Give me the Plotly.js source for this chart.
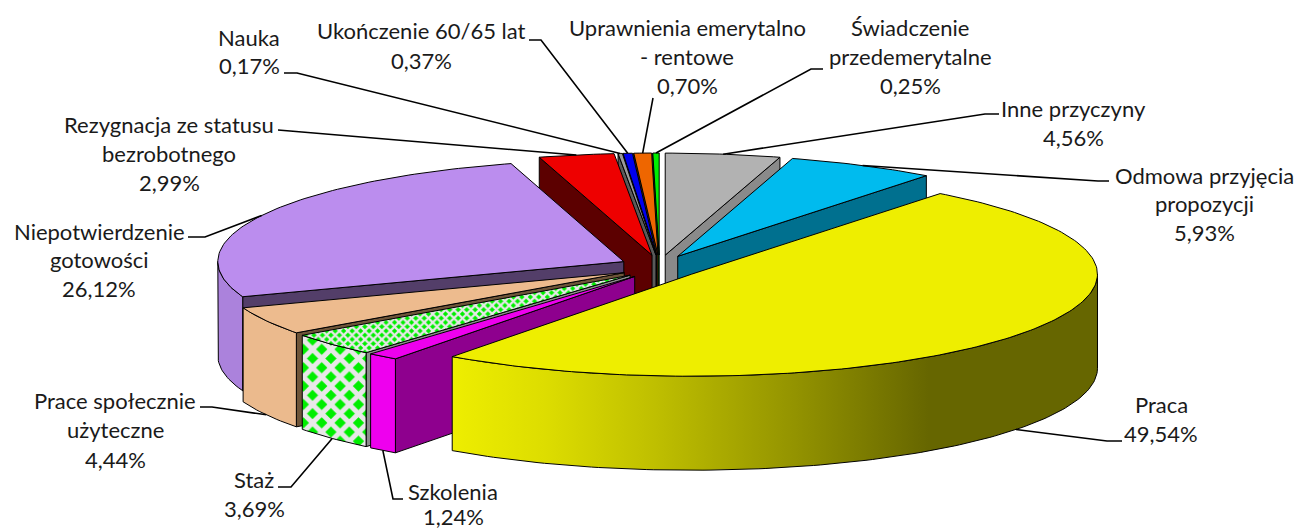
<!DOCTYPE html>
<html><head><meta charset="utf-8">
<script src="https://cdn.plot.ly/plotly-3.0.1.min.js"></script>
<style>html,body{margin:0;padding:0;background:#fff;overflow:hidden}#c{width:1296px;height:529px}</style>
</head><body><div id="c"></div>
<script>
// --- chart data (clockwise from 12 o'clock) ---
const categories = ["Inne przyczyny","Odmowa przyjęcia propozycji","Praca","Szkolenia","Staż","Prace społecznie użyteczne","Niepotwierdzenie gotowości","Rezygnacja ze statusu bezrobotnego","Nauka","Ukończenie 60/65 lat","Uprawnienia emerytalno - rentowe","Świadczenie przedemerytalne"];
const shares = [4.56,5.93,49.54,1.24,3.69,4.44,26.12,2.99,0.17,0.37,0.70,0.25];
const topColors = ["#B2B2B2","#00BBEE","#EEEE00","#EE00EE","#00EE00","#EDBB8E","#BB8DEE","#EE0000","#9A9A9A","#0000EE","#EE6600","#00EE00"];
const sideColors = ["#8A8A8A","#00708F","#666600","#8E008E","#8C8C8C","#6E5539","#533E69","#5C0000","#5A5A5A","#00008E","#6E3A00","#006600"];
const outerColors = ["#8A8A8A","#00708F","#EEEE00","#EE00EE","#E8E8E8","#EBBA8D","#AB82DC","#5C0000","#5A5A5A","#00008E","#6E3A00","#006600"];
const drawOrder = [0,1,11,10,9,8,7,6,5,4,3,2];
const labelLines = [["Inne przyczyny","4,56%"],["Odmowa przyjęcia","propozycji","5,93%"],["Praca","49,54%"],["Szkolenia","1,24%"],["Staż","3,69%"],["Prace społecznie","użyteczne","4,44%"],["Niepotwierdzenie","gotowości","26,12%"],["Rezygnacja ze statusu","bezrobotnego","2,99%"],["Nauka","0,17%"],["Ukończenie 60/65 lat","0,37%"],["Uprawnienia emerytalno","- rentowe","0,70%"],["Świadczenie","przedemerytalne","0,25%"]];
// label centre x, first line y, line step
const labelX = [1073,1204,1161,453,254,115,99,169,249,421,687,910];
const labelY = [108,175,404,491,479,400,231,124,37,30,27,27];
const labelStep = [29,28.5,29,25,29,29.5,28.5,29,28,30,29,29];
// leader elbows: label side point, knee point
const leaderStart = [[999,114],[1109,181],[1122,441],[403,499],[278,487],[200,407],[188,237],[278,130],[284,73],[529,40],[653,98],[823,69]];
const leaderKnee = [[985,114],[1098,181],[1107,441],[393,499],[291,487],[212,407],[205,237],[290,131],[297,73],[541,40],[653,98],[811,69]];
// --- pie geometry ---
const cx=659.5, cy=267, rx=406, ry=102, ex=40, ey=12, depth=94;
const rad=d=>d*Math.PI/180;
let acc=0; const total=shares.reduce((a,b)=>a+b,0);
const slices=shares.map((v,i)=>{const a0=acc/total*360; acc+=v; const a1=acc/total*360; const m=(a0+a1)/2;
  return {i,a0,a1,m,ax:cx+ex*Math.sin(rad(m)),ay:cy-ey*Math.cos(rad(m))};});
const rim=(s,t,dz=0)=>[s.ax+rx*Math.sin(rad(t)),s.ay-ry*Math.cos(rad(t))+dz];
function arc(s,t0,t1,dz=0){const n=Math.max(2,Math.ceil(Math.abs(t1-t0)));const p=[];for(let k=0;k<=n;k++)p.push(rim(s,t0+(t1-t0)*k/n,dz));return p;}
function poly(pts,extra){const x=pts.map(p=>p[0]).concat(pts[0][0]),y=pts.map(p=>p[1]).concat(pts[0][1]);
  return Object.assign({type:"scatter",mode:"lines",x,y,fill:"toself",line:{color:"#000",width:1},hoverinfo:"skip",showlegend:false},extra);}
const stazIdx=4, pracaIdx=2;
const traces=[];
drawOrder.forEach(i=>{const s=slices[i];
  const face=t=>poly([[s.ax,s.ay],rim(s,t),rim(s,t,depth),[s.ax,s.ay+depth]],{fillcolor:sideColors[i]});
  if(Math.sin(rad(s.a0))<0) traces.push(face(s.a0));
  if(Math.sin(rad(s.a1))>0.001) traces.push(face(s.a1));
  const o0=Math.max(s.a0,90),o1=Math.min(s.a1,270);
  if(o1>o0){const up=arc(s,o0,o1),dn=arc(s,o1,o0,depth);const t=poly(up.concat(dn),{fillcolor:outerColors[i]});
    if(i===pracaIdx){t.fillgradient={type:"horizontal",start:452,stop:1000,colorscale:[[0,"#EEEE00"],[0.17,"#DDDD00"],[0.37,"#BFBF00"],[0.62,"#949400"],[0.87,"#666600"],[1,"#666600"]]};delete t.fillcolor;}
    if(i===stazIdx){t.fillpattern={shape:"x",size:13,solidity:0.62,fgcolor:"#E8E8E8",bgcolor:"#00EE00",fillmode:"replace"};}
    traces.push(t);}
  const top=poly([[s.ax,s.ay]].concat(arc(s,s.a0,s.a1)),{fillcolor:topColors[i]});
  if(i===stazIdx){top.fillpattern={shape:"x",size:6,solidity:0.62,fgcolor:"#E8E8E8",bgcolor:"#00EE00",fillmode:"replace"};}
  traces.push(top);
});
const annotations=[];
labelLines.forEach((ls,i)=>ls.forEach((txt,j)=>annotations.push({x:labelX[i],y:labelY[i]+j*labelStep[i],xref:"x",yref:"y",text:txt,showarrow:false,xanchor:"center",yanchor:"middle",font:{family:"Lato, Carlito, sans-serif",size:22,color:"#1a1a1a"}})));
const shapes=slices.map(s=>{const i=s.i;const front=Math.cos(rad(s.m))<0;const e=rim(s,s.m,front?depth:0);
  const a=leaderStart[i],b=leaderKnee[i];
  return {type:"path",xref:"x",yref:"y",layer:"above",path:`M${a[0]},${a[1]}L${b[0]},${b[1]}L${e[0]},${e[1]}`,line:{color:"#000",width:1.6}};});
Plotly.newPlot("c",traces,{width:1296,height:529,margin:{l:0,r:0,t:0,b:0},paper_bgcolor:"#fff",plot_bgcolor:"#fff",showlegend:false,
  xaxis:{range:[0,1296],visible:false,fixedrange:true},yaxis:{range:[529,0],visible:false,fixedrange:true},annotations,shapes},{staticPlot:true,displayModeBar:false});
</script></body></html>
